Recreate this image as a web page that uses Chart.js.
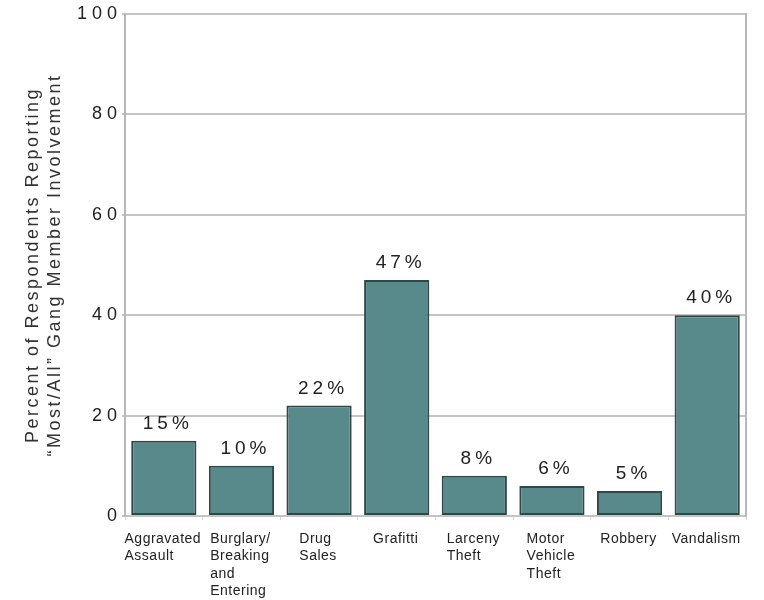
<!DOCTYPE html>
<html>
<head>
<meta charset="utf-8">
<script src="https://cdn.jsdelivr.net/npm/chart.js@4"></script>
<style>
  html, body { margin: 0; padding: 0; background: #fff; }
</style>
</head>
<body>
<canvas id="myChart" width="764" height="600"></canvas>
<script>
// data
const categories = [
    ['Aggravated', 'Assault'],
    ['Burglary/', 'Breaking', 'and', 'Entering'],
    ['Drug', 'Sales'],
    'Grafitti',
    ['Larceny', 'Theft'],
    ['Motor', 'Vehicle', 'Theft'],
    'Robbery',
    'Vandalism'
];
const percents = [15, 10, 22, 47, 8, 6, 5, 40];
const yTicks = [0, 20, 40, 60, 80, 100];
const yTitle = ['Percent of Respondents Reporting', '\u201CMost/All\u201D Gang Member Involvement'];

const FONT = '"Liberation Sans", Arial, sans-serif';

// wide tracking on the axis text, and left aligned blocks for the x labels
const axisText = {
    id: 'axisText',
    beforeDraw(chart) {
        const ctx = chart.ctx;
        const y = chart.scales.y, x = chart.scales.x;
        if (!y._patched) {
            y._patched = true;
            const lab = y.drawLabels, tit = y.drawTitle;
            y.drawLabels = function(area) {
                ctx.letterSpacing = '5px';
                lab.call(this, area);
                ctx.letterSpacing = '0px';
            };
            y.drawTitle = function() {
                ctx.letterSpacing = '2.5px';
                tit.call(this);
                ctx.letterSpacing = '0px';
            };
        }
        if (!x._patched) {
            x._patched = true;
            const lab = x.drawLabels, items = x.getLabelItems;
            x.getLabelItems = function(area) {
                const list = items.call(this, area);
                list.forEach(it => {
                    if (it._left) return;
                    it._left = true;
                    ctx.save();
                    ctx.font = it.font.string;
                    ctx.letterSpacing = '0.5px';
                    const lines = Array.isArray(it.label) ? it.label : [it.label];
                    const w = Math.max(...lines.map(l => ctx.measureText(l).width));
                    ctx.restore();
                    it.options.textAlign = 'left';
                    it.options.translation = [it.options.translation[0] - w / 2 - 1, it.options.translation[1]];
                });
                return list;
            };
            x.drawLabels = function(area) {
                ctx.letterSpacing = '0.5px';
                lab.call(this, area);
                ctx.letterSpacing = '0px';
            };
        }
    }
};

// "15%" style labels above bars
const barLabels = {
    id: 'barLabels',
    afterDatasetsDraw(chart) {
        const ctx = chart.ctx;
        const meta = chart.getDatasetMeta(0);
        ctx.save();
        ctx.font = '19px ' + FONT;
        ctx.fillStyle = '#222';
        ctx.textAlign = 'center';
        ctx.textBaseline = 'alphabetic';
        ctx.letterSpacing = '4px';
        meta.data.forEach((bar, i) => {
            ctx.fillText(percents[i] + '%', bar.x + 4, bar.y - 12);
        });
        ctx.restore();
    }
};

const ctx = document.getElementById('myChart').getContext('2d');
const myChart = new Chart(ctx, {
    type: 'bar',
    data: {
        labels: categories,
        datasets: [{
            data: percents,
            backgroundColor: '#588a8b',
            borderColor: '#2f4847',
            borderWidth: 2,
            borderSkipped: false,
            barPercentage: 0.84,
            categoryPercentage: 1
        }]
    },
    options: {
        responsive: false,
        devicePixelRatio: 1,
        animation: false,
        layout: { padding: { top: 14, right: 18, left: 0, bottom: 0 } },
        plugins: {
            legend: { display: false },
            tooltip: { enabled: false }
        },
        scales: {
            x: {
                offset: true,
                grid: { display: true, drawOnChartArea: false, tickLength: 4, color: '#d4d4d4', offset: true },
                border: { display: false },
                ticks: {
                    color: '#222',
                    font: { family: FONT, size: 14, lineHeight: 1.22 },
                    padding: 11,
                    maxRotation: 0,
                    autoSkip: false
                },
                afterFit(scale) { scale.height = 84; }
            },
            y: {
                min: 0,
                max: 100,
                afterBuildTicks(scale) { scale.ticks = yTicks.map(v => ({ value: v })); },
                grid: { color: '#c4c4c4', lineWidth: 2, drawTicks: true, tickLength: 3 },
                border: { display: true, color: '#b8b8b8', width: 2 },
                ticks: {
                    color: '#222',
                    font: { family: FONT, size: 18 },
                    padding: 0
                },
                title: {
                    display: true,
                    text: yTitle,
                    color: '#333',
                    font: { family: FONT, size: 18, lineHeight: 1.22 },
                    padding: { top: 22, bottom: 0 }
                },
                afterFit(scale) { scale.width = 125; }
            },
            y2: {
                position: 'right',
                min: 0,
                max: 100,
                grid: { display: false },
                ticks: { display: false },
                border: { display: true, color: '#b8b8b8', width: 2 },
                afterFit(scale) { scale.width = 0; }
            }
        }
    },
    plugins: [axisText, barLabels]
});
</script>
</body>
</html>
